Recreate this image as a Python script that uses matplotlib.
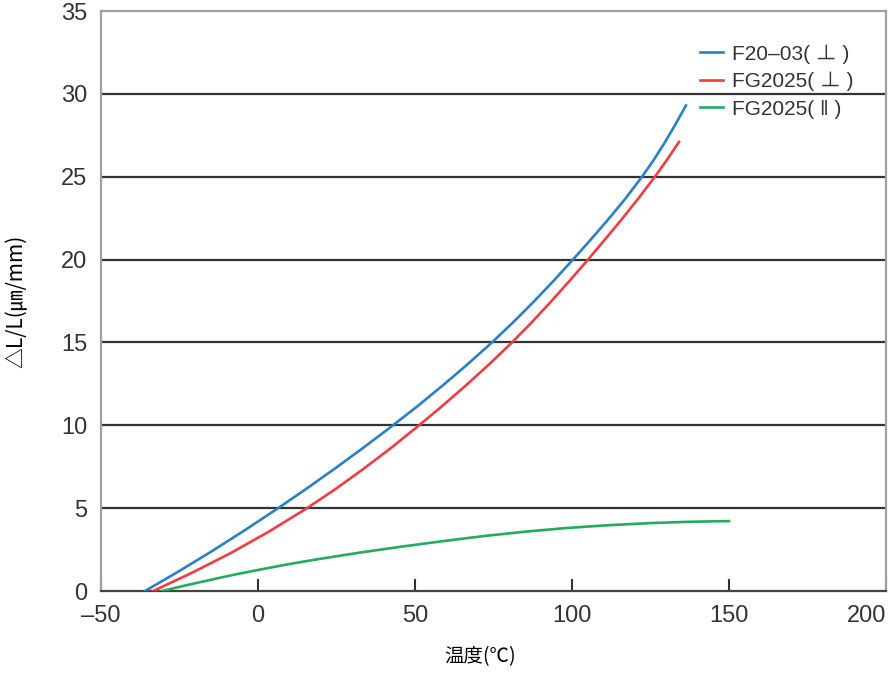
import matplotlib.pyplot as plt

plt.rcParams['font.family'] = ['Liberation Sans', 'Noto Sans CJK KR', 'DejaVu Sans']

# datos
temp_blue = [-36, -25.4, -14.8, -4.2, 6.4, 15.55, 24.7, 33.85, 43, 50.9, 58.75, 66.6, 74.5,
             80.95, 87.4, 93.85, 100.3, 105.8, 111.3, 116.8, 122.3, 125.8, 129.3, 132.8, 136.3]
dl_blue = [0, 1.17, 2.39, 3.67, 5, 6.19, 7.42, 8.69, 10, 11.17, 12.39, 13.66, 15,
           16.16, 17.38, 18.66, 20, 21.17, 22.37, 23.63, 25, 25.95, 26.99, 28.11, 29.3]

temp_red = [-33.4, -21.15, -8.9, 3.35, 15.6, 24.5, 33.45, 42.4, 51.3, 58.7, 66.1, 73.5, 80.9,
            86.95, 93.0, 99.05, 105.1, 110.4, 115.75, 121.1, 126.4, 130.25, 134.1]
dl_red = [0, 1.09, 2.27, 3.57, 5, 6.13, 7.35, 8.64, 10, 11.17, 12.39, 13.66, 15,
          16.17, 17.4, 18.68, 20, 21.19, 22.41, 23.68, 25, 26.02, 27.1]

temp_green = [-30.6, -22.8, -15, -7.5, 0, 10, 20, 32.5, 45, 58.5, 72, 85, 98, 111.5, 125, 137.5, 150]
dl_green = [0, 0.35, 0.68, 0.99, 1.27, 1.63, 1.95, 2.32, 2.66, 3.0, 3.32, 3.58, 3.80, 3.97, 4.10, 4.18, 4.22]

etiquetas = ['F20\u201303( \u22a5 )', 'FG2025( \u22a5 )', 'FG2025( \u2016 )']

fig = plt.figure(figsize=(8.9, 6.75), dpi=100)
ax = fig.add_axes([0.1135, 0.1244, 0.882, 0.8593])

# lineas horizontales
for y in [5, 10, 15, 20, 25, 30]:
    ax.axhline(y, color='#333333', lw=1.6, zorder=1)

ax.plot(temp_blue, dl_blue, color='#2a7fc6', lw=1.9, label=etiquetas[0], zorder=3)
ax.plot(temp_red, dl_red, color='#f03c42', lw=1.9, label=etiquetas[1], zorder=3)
ax.plot(temp_green, dl_green, color='#22ad5c', lw=1.9, label=etiquetas[2], zorder=3)

ax.set_xlim(-50, 200)
ax.set_ylim(0, 35)
ax.set_xticks([-50, 0, 50, 100, 150, 200])
ax.set_xticklabels(['\u201350', '0', '50', '100', '150', '200'])
ax.get_xticklabels()[-1].set_horizontalalignment('right')
ax.set_yticks([0, 5, 10, 15, 20, 25, 30, 35])

for s in ['left', 'top', 'right']:
    ax.spines[s].set_color('#a0a0a0')
    ax.spines[s].set_linewidth(1.6)
ax.spines['bottom'].set_color('#444444')
ax.spines['bottom'].set_linewidth(1.6)

ax.tick_params(axis='x', direction='in', length=9, width=1.5, color='#333333',
               labelsize=17, labelcolor='#333333', pad=10)
ax.tick_params(axis='y', length=0, labelsize=17, labelcolor='#333333', pad=10)

ax.set_xlabel('温度(℃)', fontsize=14, family=['Noto Sans CJK KR', 'DejaVu Sans'])
ax.xaxis.set_label_coords(0.483, -0.095)
ax.set_ylabel('\u25b3L/L(㎛/mm)', fontsize=15, family=['Noto Sans CJK KR', 'DejaVu Sans'])
ax.yaxis.set_label_coords(-0.093, 0.5)

ax.legend(loc='upper right', bbox_to_anchor=(0.982, 0.975), frameon=False, fontsize=15,
          handlelength=1.1, handletextpad=0.4, labelspacing=0.4, labelcolor='#333333')

plt.savefig('out.png')
